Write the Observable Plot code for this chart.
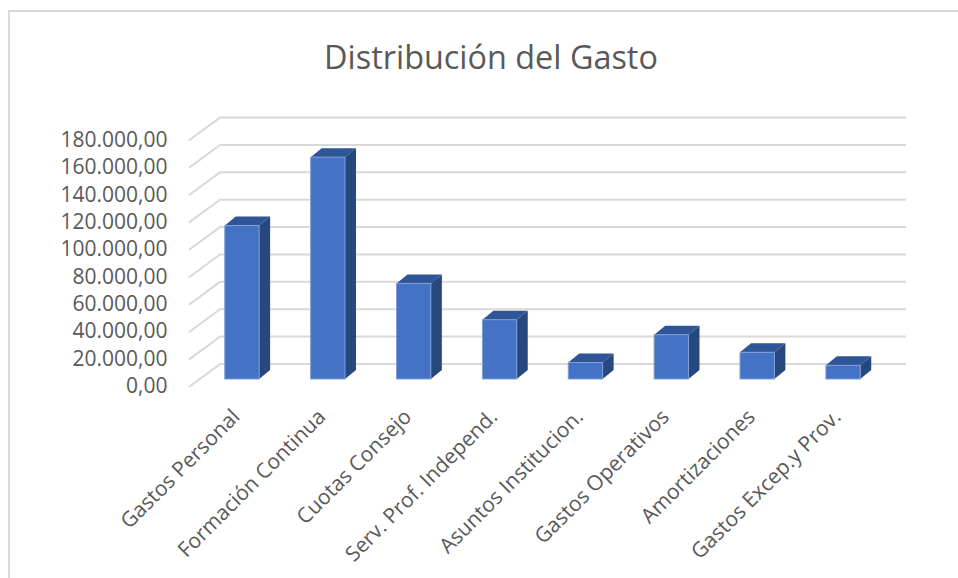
<!DOCTYPE html>
<html><head><meta charset="utf-8">
<script src="https://cdn.jsdelivr.net/npm/d3@7"></script>
<script src="https://cdn.jsdelivr.net/npm/@observablehq/plot@0.6"></script>
<style>
html,body{margin:0;padding:0;background:#fff;overflow:hidden}
#wrap{position:relative;width:958px;height:578px}
#frame{position:absolute;left:8px;top:10px;right:-4px;bottom:-4px;border:2px solid #d9d9d9}
h1{position:absolute;left:0;top:0;margin:0;width:982px;height:100px;text-align:center;font:400 32.4px/112px "Open Sans",sans-serif;color:#595959}
#chart{position:absolute;left:0;top:100px}
svg{display:block;background:transparent!important}
</style></head><body>
<div id="wrap"><div id="frame"></div><h1>Distribución del Gasto</h1><div id="chart"></div></div>
<script>
const categories = ["Gastos Personal","Formación Continua","Cuotas Consejo","Serv. Prof. Independ.","Asuntos Institucion.","Gastos Operativos","Amortizaciones","Gastos Excep.y Prov."];
const gastos = [112000,162000,69800,43300,12000,32300,19500,10000];
const tickValues = [0,20000,40000,60000,80000,100000,120000,140000,160000,180000];
const data = categories.map((c,i)=>({c,v:gastos[i]}));
const fmt = d3.formatLocale({decimal:",",thousands:".",grouping:[3]}).format(",.2f");
const FONT = "'Open Sans', sans-serif";
const DX = 10, DY = -7, DEPTH_X = 11, DEPTH_Y = -9;

function face(kind){
  return (index, scales, values, dims, ctx, next) => {
    const g = next(index, scales, values, dims, ctx);
    d3.select(g).selectAll("rect").each(function(){
      const r = d3.select(this);
      const x=+r.attr("x"), y=+r.attr("y"), w=+r.attr("width"), h=+r.attr("height");
      const pts = kind==="side"
        ? [[x+w,y],[x+w+DEPTH_X,y+DEPTH_Y],[x+w+DEPTH_X,y+h+DEPTH_Y],[x+w,y+h]]
        : [[x,y],[x+DEPTH_X,y+DEPTH_Y],[x+w+DEPTH_X,y+DEPTH_Y],[x+w,y]];
      const p = document.createElementNS("http://www.w3.org/2000/svg","path");
      p.setAttribute("d","M"+pts.join("L")+"Z");
      if (r.attr("transform")) p.setAttribute("transform",r.attr("transform"));
      this.parentNode.replaceChild(p,this);
    });
    return g;
  };
}

const plot = Plot.plot({
  width:958, height:478,
  marginLeft:189, marginRight:82, marginTop:39.5, marginBottom:192,
  style:{fontFamily:FONT, background:"transparent", overflow:"visible"},
  x:{domain:categories, paddingInner:0.6, paddingOuter:0.3, round:false, label:null},
  y:{domain:[0,180000], label:null},
  marks:[
    Plot.ruleY(tickValues,{y:d=>d, stroke:"#d9d9d9", strokeWidth:2, dx:30, dy:-22.5}),
    Plot.vector(tickValues,{y:d=>d, frameAnchor:"left", length:37, rotate:53.7, anchor:"start",
      shape:{draw(c,l){c.moveTo(0,0);c.lineTo(0,-l);}}, stroke:"#d9d9d9", strokeWidth:2}),
    Plot.barY(data,{x:"c",y:"v",fill:"#2f5597",dx:DX,dy:DY,render:face("top")}),
    Plot.barY(data,{x:"c",y:"v",fill:"#27477f",dx:DX,dy:DY,render:face("side")}),
    Plot.barY(data,{x:"c",y:"v",fill:"#4472c4",dx:DX,dy:DY,stroke:"#7f9fd8",strokeWidth:1}),
    Plot.axisY(tickValues,{tickFormat:fmt,tickSize:0,tickPadding:22,fontSize:21,fill:"#595959",label:null,dy:0,textAnchor:"end"}),
    Plot.axisX({tickRotate:-45,tickSize:0,tickPadding:21,fontSize:21,fill:"#595959",label:null,dx:-2,lineAnchor:"top"})
  ]
});
document.getElementById("chart").append(plot);
</script></body></html>
